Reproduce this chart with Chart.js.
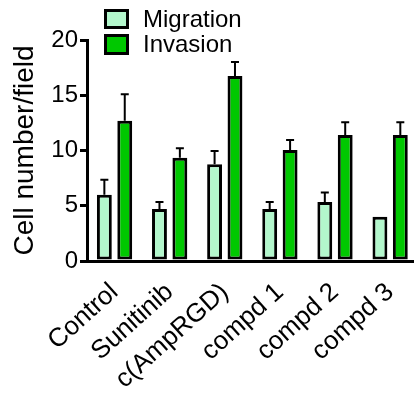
<!DOCTYPE html>
<html>
<head>
<meta charset="utf-8">
<script src="https://cdn.jsdelivr.net/npm/chart.js@4/dist/chart.umd.min.js"></script>
<style>
html,body{margin:0;padding:0;background:#fff;overflow:hidden;width:414px;height:394px;}
#wrap{width:419px;height:394px;position:relative;}
canvas{display:block;}
</style>
</head>
<body>
<div id="wrap"><canvas id="c" width="419" height="394"></canvas></div>
<script>
const categories = ['Control', 'Sunitinib', 'c(AmpRGD)', 'compd 1', 'compd 2', 'compd 3'];
const migration = [6.0, 4.7, 8.75, 4.7, 5.35, 4.0];
const migrationErr = [1.35, 0.65, 1.2, 0.65, 0.85, 0];
const invasion = [12.7, 9.35, 16.75, 10.05, 11.4, 11.4];
const invasionErr = [2.4, 0.85, 1.25, 0.9, 1.15, 1.15];
const yTicks = [0, 5, 10, 15, 20];

const FONT = '"Liberation Sans", Arial, Helvetica, sans-serif';
const errors = [migrationErr, invasionErr];

const errorBars = {
  id: 'errorBars',
  afterDatasetsDraw(chart) {
    const ctx = chart.ctx;
    const y = chart.scales.y;
    ctx.save();
    ctx.strokeStyle = '#000';
    ctx.lineWidth = 2;
    chart.data.datasets.forEach((ds, di) => {
      const meta = chart.getDatasetMeta(di);
      meta.data.forEach((bar, i) => {
        const e = errors[di][i];
        if (!e) return;
        const top = y.getPixelForValue(ds.data[i] + e);
        const x = bar.x;
        ctx.beginPath();
        ctx.moveTo(x, bar.y);
        ctx.lineTo(x, top);
        ctx.moveTo(x - 4, top);
        ctx.lineTo(x + 4, top);
        ctx.stroke();
      });
    });
    ctx.restore();
  }
};

const customLegend = {
  id: 'customLegend',
  afterDraw(chart) {
    const ctx = chart.ctx;
    ctx.save();
    const rows = [{y: 10, h: 18, ty: 20}, {y: 35, h: 19, ty: 45}];
    chart.data.datasets.forEach((ds, i) => {
      const r = rows[i];
      ctx.fillStyle = ds.backgroundColor;
      ctx.fillRect(105, r.y, 23, r.h);
      ctx.strokeStyle = '#000';
      ctx.lineWidth = 3;
      ctx.strokeRect(105.5, r.y + 0.5, 22, r.h - 1);
      ctx.fillStyle = '#000';
      ctx.font = '24px ' + FONT;
      ctx.textBaseline = 'middle';
      ctx.textAlign = 'left';
      ctx.fillText(ds.label, 143, r.ty);
    });
    ctx.restore();
  }
};

new Chart(document.getElementById('c'), {
  type: 'bar',
  data: {
    labels: categories,
    datasets: [
      {label: 'Migration', data: migration, backgroundColor: '#b3f7cc', borderColor: '#000', borderWidth: 3, borderSkipped: false},
      {label: 'Invasion', data: invasion, backgroundColor: '#00c800', borderColor: '#000', borderWidth: 3, borderSkipped: false}
    ]
  },
  options: {
    responsive: false,
    animation: false,
    devicePixelRatio: 1,
    layout: {padding: {top: 40, right: 0, bottom: 0, left: 0}},
    datasets: {bar: {categoryPercentage: 0.74, barPercentage: 0.73}},
    plugins: {legend: {display: false}, tooltip: {enabled: false}},
    scales: {
      x: {
        z: 1,
        grid: {display: false},
        border: {display: true, color: '#000', width: 3},
        ticks: {color: '#000', font: {family: FONT, size: 26}, minRotation: 42, maxRotation: 42, padding: 8},
        afterFit(s) { s.height = 133; }
      },
      y: {
        z: 1,
        min: 0, max: 20,
        afterBuildTicks(s) { s.ticks = yTicks.map(v => ({value: v})); },
        grid: {drawOnChartArea: false, drawTicks: true, tickLength: 7, color: '#000', lineWidth: 3},
        border: {display: true, color: '#000', width: 3},
        ticks: {color: '#000', font: {family: FONT, size: 24}, padding: 2},
        title: {display: true, text: 'Cell number/field', color: '#000', font: {family: FONT, size: 28}, padding: {top: 8, bottom: 0}},
        afterFit(s) { s.width = 87; }
      }
    }
  },
  plugins: [errorBars, customLegend]
});
</script>
</body>
</html>
